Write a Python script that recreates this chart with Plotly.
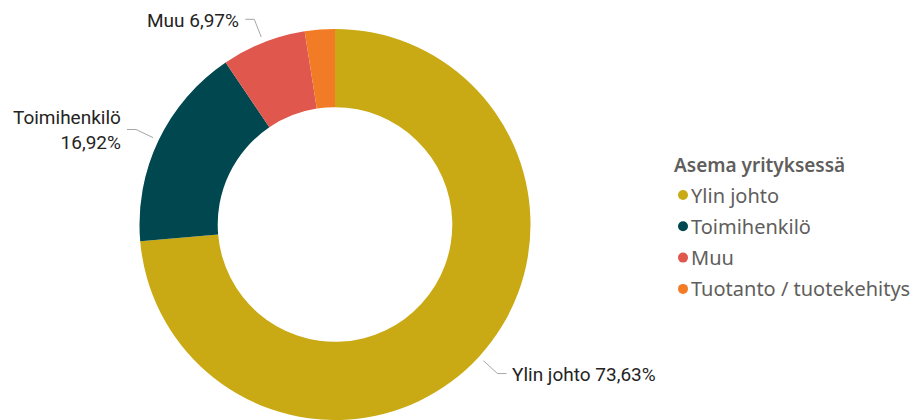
import math
import plotly.graph_objects as go

# ---- data ----
categories = ["Ylin johto", "Toimihenkilö", "Muu", "Tuotanto / tuotekehitys"]
shares = [73.63, 16.92, 6.97, 2.48]
label_text = ["Ylin johto 73,63%", "Toimihenkilö<br>16,92%", "Muu 6,97%", None]
legend_title = "Asema yrityksessä"
colors = ["#C9A914", "#01474F", "#E0584D", "#F27B26"]

# ---- geometry (pixels) ----
W, H = 917, 420
TOP = 29            # top of the donut in px
CX = 335            # donut centre x in px
R = (H - TOP) / 2   # outer radius in px
CY = TOP + R
HOLE = 0.6

def px_to_paper(x, y):
    return x / W, (H - y) / H

fig = go.Figure()
fig.add_trace(go.Pie(
    labels=categories, values=shares, sort=False, direction="clockwise",
    rotation=0, hole=HOLE, textinfo="none", hoverinfo="label+percent",
    marker=dict(colors=colors, line=dict(width=0)),
    domain=dict(x=[(CX - R) / W, (CX + R) / W], y=[0, (H - TOP) / H]),
    showlegend=False,
))

shapes = []
annotations = []
LINE_COL = "#A6A6A6"
LABEL_COL = "#252423"
total = sum(shares)
cum = 0.0
for name, val, txt in zip(categories, shares, label_text):
    mid = (cum + val / 2) / total * 2 * math.pi
    cum += val
    if txt is None:
        continue
    sx, sy = math.sin(mid), -math.cos(mid)
    p0 = (CX + (R + 6) * sx, CY + (R + 6) * sy)
    p1 = (CX + (R + 25) * sx, CY + (R + 25) * sy)
    side = 1 if sx > 0 else -1
    p2 = (p1[0] + side * 9, p1[1])
    a, b, c = px_to_paper(*p0), px_to_paper(*p1), px_to_paper(*p2)
    shapes.append(dict(type="path", xref="paper", yref="paper",
                       path=f"M {a[0]} {a[1]} L {b[0]} {b[1]} L {c[0]} {c[1]}",
                       line=dict(color=LINE_COL, width=1)))
    tx, ty = px_to_paper(p2[0] + side * 4, p2[1] + 1)
    annotations.append(dict(x=tx, y=ty, xref="paper", yref="paper",
                            text=txt, showarrow=False,
                            xanchor="left" if side > 0 else "right",
                            yanchor="middle", align="left" if side > 0 else "right",
                            font=dict(family="Roboto", size=19, color=LABEL_COL)))

# ---- legend (custom, round markers) ----
LEG_X = 674
LEG_TITLE_Y = 165
LEG_Y0 = 195
LEG_STEP = 31.3
LEG_COL = "#605E5C"
tx, ty = px_to_paper(LEG_X - 2, LEG_TITLE_Y)
annotations.append(dict(x=tx, y=ty, xref="paper", yref="paper", text=legend_title,
                        showarrow=False, xanchor="left", yanchor="middle",
                        font=dict(family="Noto Sans", size=19, color=LEG_COL, weight=600)))
for i, (name, col) in enumerate(zip(categories, colors)):
    yy = LEG_Y0 + i * LEG_STEP
    dx, dy = px_to_paper(683, yy)
    shapes.append(dict(type="circle", xref="paper", yref="paper",
                       xsizemode="pixel", ysizemode="pixel",
                       xanchor=dx, yanchor=dy, x0=-5, x1=5, y0=-5, y1=5,
                       fillcolor=col, line=dict(width=0)))
    lx, ly = px_to_paper(689, yy)
    annotations.append(dict(x=lx, y=ly, xref="paper", yref="paper", text=name,
                            showarrow=False, xanchor="left", yanchor="middle",
                            font=dict(family="Noto Sans", size=20, color=LEG_COL)))

fig.update_layout(
    width=W, height=H, margin=dict(l=0, r=0, t=0, b=0),
    paper_bgcolor="white", plot_bgcolor="white",
    shapes=shapes, annotations=annotations, showlegend=False,
)

fig.write_html("out.html", config={"displayModeBar": False},
               post_script="document.body.style.margin='0';")
